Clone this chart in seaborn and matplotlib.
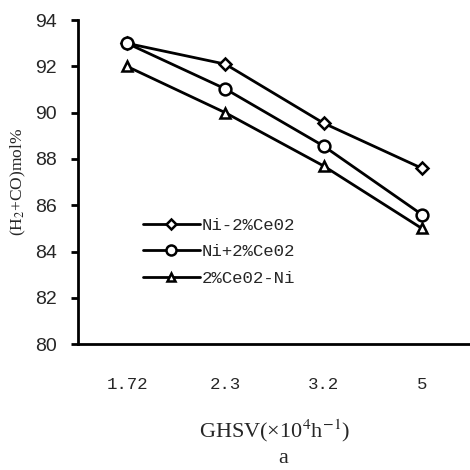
import matplotlib
matplotlib.use("Agg")
import matplotlib.pyplot as plt
import seaborn as sns
import pandas as pd
from matplotlib.ticker import FixedLocator
from matplotlib.lines import Line2D

categories = ["1.72", "2.3", "3.2", "5"]
ni_minus = [93.0, 92.1, 89.55, 87.6]
ni_plus = [93.0, 91.03, 88.56, 85.6]
ce_ni = [92.0, 90.0, 87.7, 85.0]
series_names = ["Ni-2%Ce02", "Ni+2%Ce02", "2%Ce02-Ni"]

rows = []
for name, vals in zip(series_names, [ni_minus, ni_plus, ce_ni]):
    for i, v in enumerate(vals):
        rows.append({"x": i, "y": v, "series": name})
df = pd.DataFrame(rows)

sns.set_style("white")
plt.rcParams["font.family"] = ["Liberation Serif", "DejaVu Serif"]
plt.rcParams["mathtext.fontset"] = "stix"

fig = plt.figure(figsize=(4.7, 4.7), dpi=100)
ax = fig.add_axes([0.166, 0.268, 0.836, 0.689])

markers = {"Ni-2%Ce02": "D", "Ni+2%Ce02": "o", "2%Ce02-Ni": "^"}
sizes_ms = {"Ni-2%Ce02": 6, "Ni+2%Ce02": 8.5, "2%Ce02-Ni": 7.5}
sns.lineplot(data=df, x="x", y="y", hue="series", style="series",
             palette=["black"] * 3, markers=markers, dashes=False,
             linewidth=2, ax=ax, legend=False)
for line, name in zip(ax.get_lines(), series_names):
    line.set_markerfacecolor("white")
    line.set_markeredgecolor("black")
    line.set_markeredgewidth(1.8)
    line.set_markersize(sizes_ms[name])

ax.set_xlim(-0.5, 3.5)
ax.set_ylim(80, 94)
ax.set_yticks(range(80, 95, 2))
ax.set_xticks(range(4))
ax.set_xticklabels(categories, fontsize=12.5, fontfamily="Liberation Mono")
ax.xaxis.set_minor_locator(FixedLocator([0.5, 1.5, 2.5]))
ax.tick_params(axis="x", which="major", length=0, pad=24)
ax.tick_params(axis="x", which="minor", direction="in", length=6, width=2, color="black")
ax.tick_params(axis="y", which="major", direction="out", length=5, width=2, labelsize=14, pad=10, color="black", left=True)
for lab in ax.get_yticklabels():
    lab.set_fontfamily("Liberation Sans")

sns.despine(ax=ax)
for s in ["left", "bottom"]:
    ax.spines[s].set_linewidth(2)
    ax.spines[s].set_color("black")

ax.set_xlabel("GHSV(×10$^4$h$^{-1}$)", fontsize=16, labelpad=18)
ax.set_ylabel("(H$_2$+CO)mol%", fontsize=12.5)
ax.yaxis.set_label_coords(-0.127, 0.5)
fig.text(0.602, 0.004, "a", fontsize=16, ha="center", va="bottom")

handles = [Line2D([], [], color="black", lw=2, marker=markers[n], markersize=sizes_ms[n] * 0.85,
                  markerfacecolor="white", markeredgecolor="black", markeredgewidth=1.8)
           for n in series_names]
leg = ax.legend(handles, series_names, loc="center left", bbox_to_anchor=(0.125, 0.285),
                frameon=False, handlelength=3.3, handletextpad=0.1, labelspacing=0.65,
                prop={"family": "Liberation Mono", "size": 12.5})

fig.savefig("out.png", dpi=100)
